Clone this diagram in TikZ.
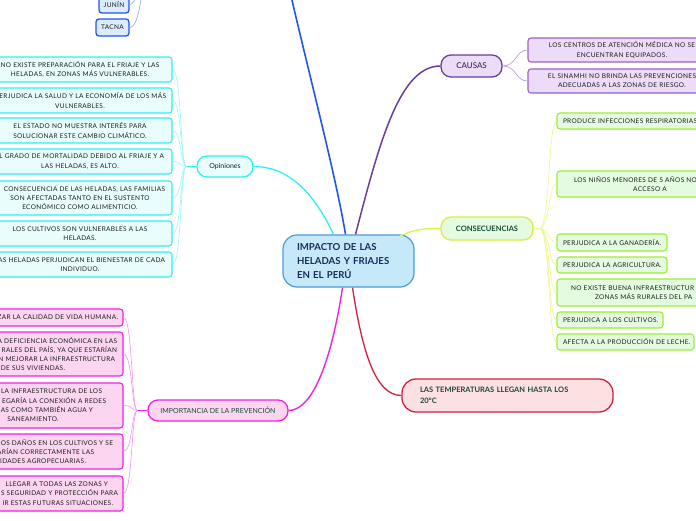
\documentclass[tikz,border=0pt]{standalone}
\usepackage{fontspec}
\setmainfont{Lato}
\newfontfamily\lsfont[LetterSpace=5]{Lato}
\definecolor{mainfill}{HTML}{C6E9FA}
\definecolor{mainedge}{HTML}{4A9AD8}
\definecolor{maintxt}{HTML}{1A2A5A}
\definecolor{blueln}{HTML}{2255EE}
\definecolor{bluefill}{HTML}{DCECFC}
\definecolor{bluethin}{HTML}{8AA6F5}
\definecolor{purpln}{HTML}{6A3D9A}
\definecolor{purpfill}{HTML}{EDDCF7}
\definecolor{purpedge}{HTML}{9A62C8}
\definecolor{cyanln}{HTML}{2EEFF2}
\definecolor{cyanfill}{HTML}{EAFDFD}
\definecolor{cyanthin}{HTML}{9AF5F7}
\definecolor{yelln}{HTML}{DDF24A}
\definecolor{yelthin}{HTML}{ECF78A}
\definecolor{greenfill}{HTML}{E4FBE2}
\definecolor{greenedge}{HTML}{9BEE33}
\definecolor{conedge}{HTML}{D4F03C}
\definecolor{redln}{HTML}{CF2040}
\definecolor{redfill}{HTML}{FDE0E2}
\definecolor{magln}{HTML}{F020E0}
\definecolor{magthin}{HTML}{F590EE}
\definecolor{magfill}{HTML}{FCD6F0}
\definecolor{darkgreen}{HTML}{1A4A3A}
\definecolor{childtxt}{HTML}{1C1C1C}
\newcommand\rl[2]{\makebox[#1pt][r]{#2}}
\newcommand\childfont{\fontsize{6.5}{9.3}\selectfont\lsfont}
\begin{document}
\begin{tikzpicture}[x=1pt,y=-1pt,
  child/.style={draw, rounded corners=3pt, line width=1.1pt, inner xsep=4pt, inner ysep=0pt, font=\childfont, text=childtxt, align=center},
  pill/.style={draw, rounded corners=10pt, line width=1.3pt, inner sep=0pt, align=center},
  opchild/.style={child, draw=cyanln, fill=cyanfill, text width=176pt, minimum height=25pt},
  imchild/.style={child, draw=magln, fill=magfill, text width=172pt},
  cochild/.style={child, draw=greenedge, fill=greenfill, align=left, inner xsep=6pt, minimum height=16pt},
  cachild/.style={child, draw=purpedge, fill=purpfill, text width=180pt, minimum height=24pt},
  opline/.style={cyanthin, line width=0.6pt},
  imline/.style={magthin, line width=0.6pt},
  coline/.style={yelthin, line width=0.6pt},
  caline/.style={purpedge!70, line width=0.6pt},
]
\useasboundingbox (0,0) rectangle (696,520);
\clip (0,0) rectangle (696,520);

% off-page parents
\coordinate (topnode) at (283,-40);
\coordinate (lugar) at (148,-40);

% central node
\node[draw=mainedge, fill=mainfill, line width=1.2pt, rounded corners=14pt, minimum width=131pt, minimum height=52pt, text width=103pt, inner xsep=14pt, inner ysep=0pt, align=left, text=maintxt, font=\fontsize{9.6}{14}\selectfont\bfseries] (main) at (348.5,261) {IMPACTO DE LAS\\HELADAS Y FRIAJES\\EN EL PERÚ};

% top (blue) branch
\node[child, draw=blueln, fill=bluefill, line width=1.3pt, minimum width=30pt, minimum height=17pt, inner xsep=0pt] (junin) at (114,4.5) {JUNÍN};
\node[child, draw=blueln, fill=bluefill, line width=1.3pt, minimum width=33pt, minimum height=17pt, inner xsep=0pt] (tacna) at (112.5,27.5) {TACNA};
\draw[bluethin, line width=0.6pt] (lugar) .. controls (140,-15) and (136,4.5) .. (junin.east);
\draw[bluethin, line width=0.6pt] (lugar) .. controls (142,-15) and (140,27.5) .. (tacna.east);
\draw[blueln, line width=1.6pt] ([xshift=-3pt]main.north) .. controls (335,170) and (300,40) .. (topnode);

% CAUSAS
\node[pill, draw=purpln, fill=purpfill, minimum width=61pt, minimum height=22pt, text=purpln!40!black, font=\fontsize{8}{9}\selectfont] (causas) at (471.5,66) {CAUSAS};
\draw[purpln, line width=1.5pt] ([xshift=7pt]main.north) .. controls (380,140) and (400,66) .. (causas.west);
\node[cachild] (ca1) at (622,50) {LOS CENTROS DE ATENCIÓN MÉDICA NO SE\\ENCUENTRAN EQUIPADOS.};
\node[cachild] (ca2) at (622,81) {EL SINAMHI NO BRINDA LAS PREVENCIONES\\ADECUADAS A LAS ZONAS DE RIESGO.};
\draw[caline] (causas.east) .. controls +(14,0) and +(-12,0) .. (ca1.west);
\draw[caline] (causas.east) .. controls +(14,0) and +(-12,0) .. (ca2.west);

% Opiniones
\node[pill, draw=cyanln, fill=cyanfill, minimum width=56pt, minimum height=21pt, text=childtxt, font=\fontsize{7}{8}\selectfont] (opin) at (225,166.5) {Opiniones};
\draw[cyanln, line width=1.3pt] ([xshift=-15pt]main.north) .. controls (315,195) and (290,166.5) .. (opin.east);
\node[opchild] (o1) at (80,69.5) {NO EXISTE PREPARACIÓN PARA EL FRIAJE Y LAS\\HELADAS, EN ZONAS MÁS VULNERABLES.};
\node[opchild] (o2) at (80,100.5) {\rl{172}{ERJUDICA LA SALUD Y LA ECONOMÍA DE LOS MÁS}\\VULNERABLES.};
\node[opchild] (o3) at (80,130.5) {EL ESTADO NO MUESTRA INTERÉS PARA\\SOLUCIONAR ESTE CAMBIO CLIMÁTICO.};
\node[opchild] (o4) at (80,161.5) {\rl{168}{L GRADO DE MORTALIDAD DEBIDO AL FRIAJE Y A}\\LAS HELADAS, ES ALTO.};
\node[opchild, minimum height=34pt] (o5) at (80,198) {\rl{170}{CONSECUENCIA DE LAS HELADAS, LAS FAMILIAS}\\SON AFECTADAS TANTO EN EL SUSTENTO\\ECONÓMICO COMO ALIMENTICIO.};
\node[opchild] (o6) at (80,233.5) {LOS CULTIVOS SON VULNERABLES A LAS\\HELADAS.};
\node[opchild] (o7) at (80,264.5) {\rl{170}{AS HELADAS PERJUDICAN EL BIENESTAR DE CADA}\\INDIVIDUO.};
\draw[cyanln, line width=1.3pt] (opin.west) -- ++(-10,0) coordinate (ofan);
\foreach \n in {o1,o2,o3,o4,o5,o6,o7}
  \draw[opline] (ofan) .. controls +(-6,0) and +(9,0) .. (\n.east);

% CONSECUENCIAS
\node[pill, draw=conedge, fill=greenfill, minimum width=92pt, minimum height=23pt, text=darkgreen, font=\fontsize{7.5}{9}\selectfont\bfseries] (cons) at (487,228.5) {CONSECUENCIAS};
\draw[yelln, line width=1.3pt] (400,236) .. controls (415,229) and (425,228.5) .. (cons.west);
\node[cochild, text width=138pt] (c1) at (632,121) {\mbox{PRODUCE INFECCIONES RESPIRATORIAS}};
\node[cochild, text width=174pt, align=center, minimum height=26pt] (c2) at (650,184) {\makebox[152pt][l]{LOS NIÑOS MENORES DE 5 AÑOS NO}\\ACCESO A};
\node[cochild, text width=98pt, minimum height=17pt] (c3) at (612,242.5) {\mbox{PERJUDICA A LA GANADERÍA.}};
\node[cochild, text width=98pt] (c4) at (612,265) {\mbox{PERJUDICA LA AGRICULTURA.}};
\node[cochild, text width=188pt, minimum height=27pt] (c5) at (657,292.5) {\hspace*{8pt}NO EXISTE BUENA INFRAESTRUCTUR\\\hspace*{32pt}ZONAS MÁS RURALES DEL PA};
\node[cochild, text width=94pt] (c6) at (610,320) {\mbox{PERJUDICA A LOS CULTIVOS.}};
\node[cochild, text width=125pt] (c7) at (625.5,342) {\mbox{AFECTA A LA PRODUCCIÓN DE LECHE.}};
\coordinate (cfan) at ([xshift=6pt]cons.east);
\draw[coline] (cons.east) -- (cfan);
\foreach \n in {c1,c2,c3,c4,c5,c6,c7}
  \draw[coline] (cfan) .. controls +(10,0) and +(-8,0) .. (\n.west);

% Temperatures
\node[pill, draw=redln, fill=redfill, minimum width=211pt, minimum height=33pt, rounded corners=14pt, text width=175pt, inner xsep=18pt, align=left, text=darkgreen, font=\fontsize{7.5}{11}\selectfont\bfseries] (temp) at (507.5,395.5) {LAS TEMPERATURAS LLEGAN HASTA LOS\\20°C};
\draw[redln, line width=1.3pt] ([xshift=4pt]main.south) .. controls (362,350) and (375,395.5) .. (temp.west);

% IMPORTANCIA
\node[pill, draw=magln, fill=magfill, minimum width=140pt, minimum height=21pt, text=darkgreen, font=\fontsize{7}{8}\selectfont] (imp) at (218,410.5) {IMPORTANCIA DE LA PREVENCIÓN};
\draw[magln, line width=1.4pt] ([xshift=-6pt]main.south) .. controls (330,370) and (310,410.5) .. (imp.east);
\node[imchild, minimum height=17pt] (m1) at (33,317.5) {\rl{170}{ZAR LA CALIDAD DE VIDA HUMANA.}};
\node[imchild, minimum height=44pt] (m2) at (33,354) {\rl{168}{A DEFICIENCIA ECONÓMICA EN LAS}\\\rl{168}{RALES DEL PAÍS, YA QUE ESTARÍAN}\\\rl{164}{N MEJORAR LA INFRAESTRUCTURA}\\DE SUS VIVIENDAS.};
\node[imchild, minimum height=45pt] (m3) at (33,405.5) {\rl{138}{LA INFRAESTRUCTURA DE LOS}\\\rl{146}{EGARÍA LA CONEXIÓN A REDES}\\\rl{120}{AS COMO TAMBIÉN AGUA Y}\\SANEAMIENTO.};
\node[imchild, minimum height=35pt] (m4) at (33,451.5) {\rl{160}{OS DAÑOS EN LOS CULTIVOS Y SE}\\\rl{122}{ARÍAN CORRECTAMENTE LAS}\\\rl{106}{IDADES AGROPECUARIAS.}};
\node[imchild, minimum height=35pt] (m5) at (33,493.5) {\rl{150}{LLEGAR A TODAS LAS ZONAS Y}\\\rl{170}{S SEGURIDAD Y PROTECCIÓN PARA}\\\rl{160}{IR ESTAS FUTURAS SITUACIONES.}};
\draw[magln, line width=1.3pt] (imp.west) -- ++(-10,0) coordinate (mfan);
\foreach \n in {m1,m2,m3,m4,m5}
  \draw[imline] (mfan) .. controls +(-6,0) and +(9,0) .. (\n.east);
\end{tikzpicture}
\end{document}
